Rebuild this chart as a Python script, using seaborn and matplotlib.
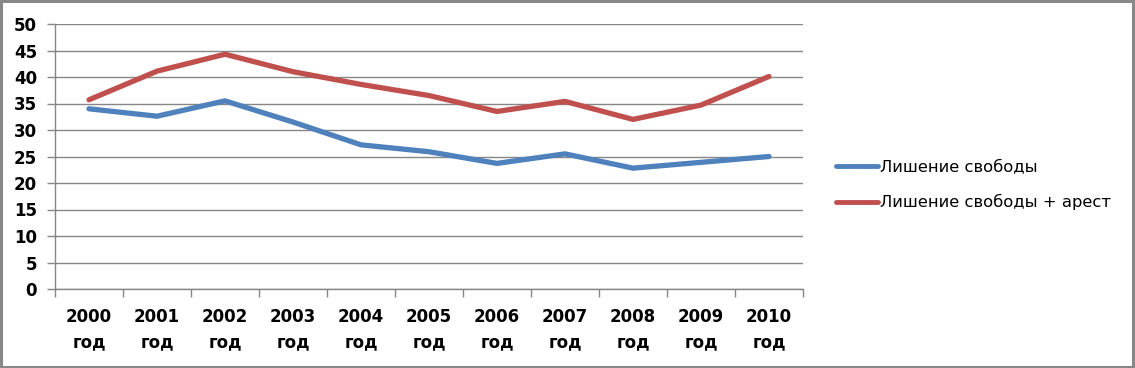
import matplotlib
matplotlib.use("Agg")
import matplotlib.pyplot as plt
from matplotlib.patches import Rectangle
from matplotlib.lines import Line2D
import seaborn as sns
import pandas as pd
import numpy as np

years = ["2000", "2001", "2002", "2003", "2004", "2005", "2006", "2007", "2008", "2009", "2010"]
tick_labels = [f"{y}\nгод" for y in years]
series_names = ["Лишение свободы", "Лишение свободы + арест"]
deprivation = [34.0, 32.6, 35.5, 31.5, 27.2, 25.9, 23.7, 25.5, 22.8, 23.9, 25.0]
deprivation_arrest = [35.7, 41.1, 44.3, 41.0, 38.6, 36.5, 33.5, 35.4, 32.0, 34.7, 40.1]
colors = ["#4F81BD", "#C0504D"]

sns.set_theme(style="white")
plt.rcParams["font.family"] = ["DejaVu Sans"]
plt.rcParams["text.color"] = "black"
plt.rcParams["xtick.labelcolor"] = "black"
plt.rcParams["ytick.labelcolor"] = "black"

df = pd.DataFrame({
    "idx": list(range(len(years))) * 2,
    "value": deprivation + deprivation_arrest,
    "series": [series_names[0]] * len(years) + [series_names[1]] * len(years),
})

fig = plt.figure(figsize=(11.35, 3.68), dpi=100)
ax = fig.add_axes([55 / 1135, (368 - 289) / 368, (803 - 55) / 1135, (289 - 24) / 368])

sns.lineplot(data=df, x="idx", y="value", hue="series", palette=colors,
             linewidth=3.8, ax=ax, legend=False, solid_capstyle="round")

ax.set_xlim(-0.5, len(years) - 0.5)
ax.set_ylim(0, 50)
ax.set_yticks(np.arange(0, 51, 5))
ax.set_xticks(range(len(years)))
ax.set_xticklabels(tick_labels, fontweight="bold", fontsize=12, linespacing=1.5, color="black")
ax.set_xticks(np.arange(-0.5, len(years), 1), minor=True)
ax.tick_params(axis="x", which="major", bottom=True, length=0, pad=14)
ax.tick_params(axis="x", which="minor", bottom=True, length=6, width=1, color="#868686", direction="out")
ax.tick_params(axis="y", which="major", left=True, length=6, width=1, color="#868686",
               direction="out", pad=7, labelcolor="black")
for lbl in ax.get_yticklabels():
    lbl.set_fontweight("bold")
    lbl.set_fontsize(12)
ax.set_xlabel("")
ax.set_ylabel("")
ax.grid(axis="y", color="#868686", linewidth=1)
ax.set_axisbelow(True)
for s in ["top", "right"]:
    ax.spines[s].set_visible(False)
for s in ["left", "bottom"]:
    ax.spines[s].set_color("#868686")
    ax.spines[s].set_linewidth(1)

handles = [Line2D([0], [0], color=c, linewidth=3.5, solid_capstyle="round") for c in colors]
leg = fig.legend(handles, series_names, loc="upper left", bbox_to_anchor=(829 / 1135, 1 - 153 / 368),
                 frameon=False, fontsize=11.8, handlelength=2.6, handletextpad=0.1,
                 labelspacing=1.2, borderaxespad=0)
for t in leg.get_texts():
    t.set_color("black")

fig.add_artist(Rectangle((0.001, 0.002), 0.997, 0.995, transform=fig.transFigure,
                         fill=False, edgecolor="#888888", linewidth=2.2))

fig.savefig("out.png", dpi=100, facecolor="white")
